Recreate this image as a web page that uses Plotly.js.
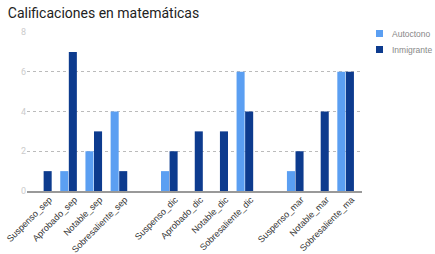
<!DOCTYPE html>
<html><head><meta charset="utf-8">
<script src="https://cdn.plot.ly/plotly-3.0.1.min.js"></script>
<style>html,body{margin:0;padding:0;background:#fff}#c{width:435px;height:254px}</style>
</head><body><div id="c"></div>
<script>
const categories = ["Suspenso_sep","Aprobado_sep","Notable_sep","Sobresaliente_sep"," ",
  "Suspenso_dic","Aprobado_dic","Notable_dic","Sobresaliente_dic","  ",
  "Suspenso_mar","Notable_mar","Sobresaliente_ma"];
const seriesNames = ["Autoctono","Inmigrante"];
const seriesColors = ["#5b9ff2","#0d3b8e"];
const autoctono  = [0,1,2,4,null, 1,0,0,6,null, 1,0,6];
const inmigrante = [1,7,3,1,null, 2,3,3,4,null, 2,4,6];
const yTicks = [0,2,4,6,8];

const values = [autoctono, inmigrante];
const traces = values.map((v,i)=>({type:'bar', name:seriesNames[i], x:categories, y:v,
  marker:{color:seriesColors[i]}, showlegend:false}));

// legend drawn as shapes + text (paper coords; plot area 335x159 px)
const L = 27, T = 32, W = 335, H = 159;
const px = x => (x - L) / W, py = y => (T + H - y) / H;
const shapes = [], annotations = [];
seriesNames.forEach((n,i)=>{
  const yc = 33.5 + i*16;
  shapes.push({type:'rect', xref:'paper', yref:'paper', x0:px(376), x1:px(383), y0:py(yc+3.5), y1:py(yc-3.5),
    fillcolor:seriesColors[i], line:{width:0}});
  annotations.push({xref:'paper', yref:'paper', x:px(390), y:py(yc), xanchor:'left', yanchor:'middle',
    text:n, showarrow:false, font:{size:8.5, color:'#888', family:'Arial, Liberation Sans, sans-serif'}});
});

const layout = {
  width:435, height:254,
  margin:{l:L, r:435-L-W, t:T, b:254-T-H},
  paper_bgcolor:'#fff', plot_bgcolor:'#fff',
  font:{family:'Roboto, Arial, sans-serif', color:'#444'},
  title:{text:'Calificaciones en matemáticas', x:0.018, xanchor:'left', y:0.95, yanchor:'middle',
         font:{size:14, color:'#222', family:'Roboto, Arial, sans-serif'}},
  barmode:'group', bargap:0.32, bargroupgap:0.06,
  xaxis:{type:'category', categoryorder:'array', categoryarray:categories, range:[-0.65, 12.65],
         tickangle:-45, tickfont:{size:9, color:'#333', family:'Arial, Liberation Sans, sans-serif'},
         ticklabelshift:6, ticklabelstandoff:-2,
         showline:true, linecolor:'#999', linewidth:2,
         ticks:'', showgrid:false, automargin:false, fixedrange:true},
  yaxis:{range:[0,8], tickvals:yTicks, ticktext:yTicks.map(String), showgrid:true, gridcolor:'#bbb',
         griddash:'dot', gridwidth:1, zeroline:false, tickfont:{size:9, color:'#ccc'},
         ticks:'', automargin:false, fixedrange:true},
  shapes, annotations,
  showlegend:false
};
Plotly.newPlot('c', traces, layout, {displayModeBar:false, staticPlot:true});
</script></body></html>
